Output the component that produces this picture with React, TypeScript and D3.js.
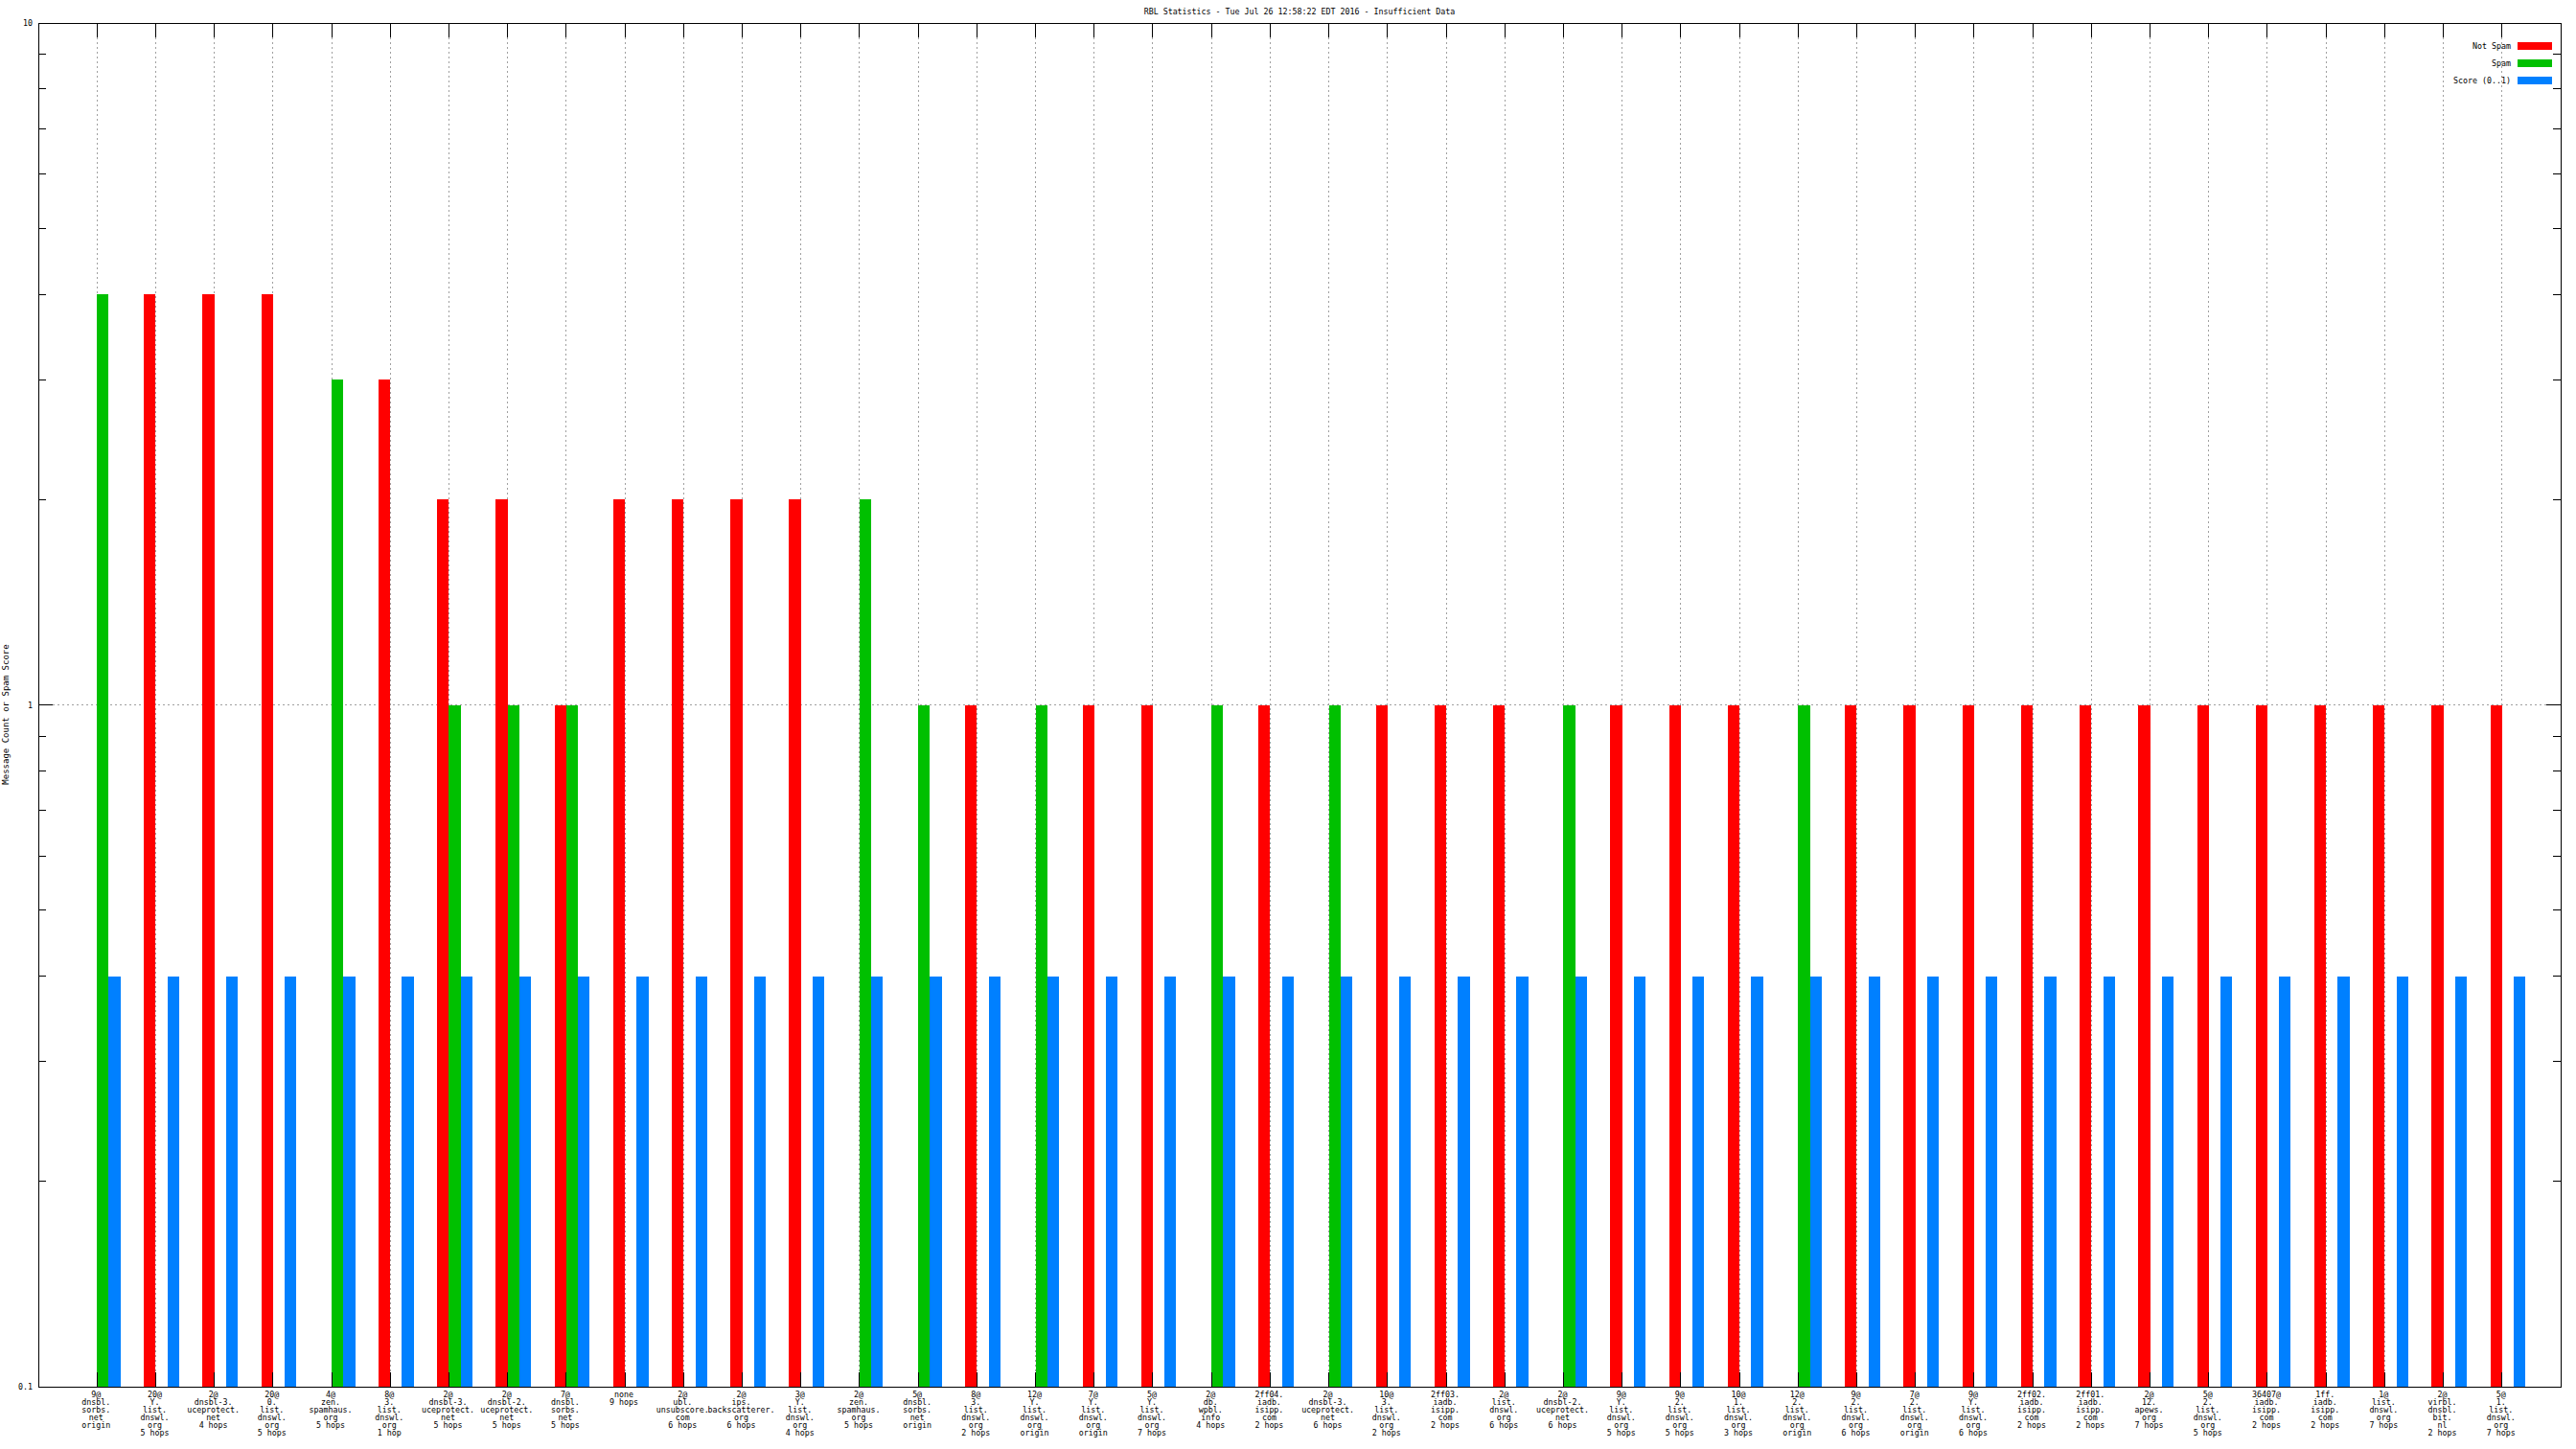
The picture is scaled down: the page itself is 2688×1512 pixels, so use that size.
import React from "react";
import * as d3 from "d3";

const categories: string[] = [
  "9@\ndnsbl.\nsorbs.\nnet\norigin",
  "20@\nY.\nlist.\ndnswl.\norg\n5 hops",
  "2@\ndnsbl-3.\nuceprotect.\nnet\n4 hops",
  "20@\n0.\nlist.\ndnswl.\norg\n5 hops",
  "4@\nzen.\nspamhaus.\norg\n5 hops",
  "8@\n3.\nlist.\ndnswl.\norg\n1 hop",
  "2@\ndnsbl-3.\nuceprotect.\nnet\n5 hops",
  "2@\ndnsbl-2.\nuceprotect.\nnet\n5 hops",
  "7@\ndnsbl.\nsorbs.\nnet\n5 hops",
  "none\n9 hops",
  "2@\nubl.\nunsubscore.\ncom\n6 hops",
  "2@\nips.\nbackscatterer.\norg\n6 hops",
  "3@\nY.\nlist.\ndnswl.\norg\n4 hops",
  "2@\nzen.\nspamhaus.\norg\n5 hops",
  "5@\ndnsbl.\nsorbs.\nnet\norigin",
  "8@\n3.\nlist.\ndnswl.\norg\n2 hops",
  "12@\nY.\nlist.\ndnswl.\norg\norigin",
  "7@\nY.\nlist.\ndnswl.\norg\norigin",
  "5@\nY.\nlist.\ndnswl.\norg\n7 hops",
  "2@\ndb.\nwpbl.\ninfo\n4 hops",
  "2ff04.\niadb.\nisipp.\ncom\n2 hops",
  "2@\ndnsbl-3.\nuceprotect.\nnet\n6 hops",
  "10@\n3.\nlist.\ndnswl.\norg\n2 hops",
  "2ff03.\niadb.\nisipp.\ncom\n2 hops",
  "2@\nlist.\ndnswl.\norg\n6 hops",
  "2@\ndnsbl-2.\nuceprotect.\nnet\n6 hops",
  "9@\nY.\nlist.\ndnswl.\norg\n5 hops",
  "9@\n2.\nlist.\ndnswl.\norg\n5 hops",
  "10@\n1.\nlist.\ndnswl.\norg\n3 hops",
  "12@\n2.\nlist.\ndnswl.\norg\norigin",
  "9@\n2.\nlist.\ndnswl.\norg\n6 hops",
  "7@\n2.\nlist.\ndnswl.\norg\norigin",
  "9@\nY.\nlist.\ndnswl.\norg\n6 hops",
  "2ff02.\niadb.\nisipp.\ncom\n2 hops",
  "2ff01.\niadb.\nisipp.\ncom\n2 hops",
  "2@\n12.\napews.\norg\n7 hops",
  "5@\n2.\nlist.\ndnswl.\norg\n5 hops",
  "36407@\niadb.\nisipp.\ncom\n2 hops",
  "1ff.\niadb.\nisipp.\ncom\n2 hops",
  "1@\nlist.\ndnswl.\norg\n7 hops",
  "2@\nvirbl.\ndnsbl.\nbit.\nnl\n2 hops",
  "5@\n1.\nlist.\ndnswl.\norg\n7 hops",
];

const notSpam: number[] = [0,4,4,4,0,3,2,2,1,2,2,2,2,0,0,1,0,1,1,0,1,0,1,1,1,0,1,1,1,0,1,1,1,1,1,1,1,1,1,1,1,1];
const spam: number[] = [4,0,0,0,3,0,1,1,1,0,0,0,0,2,1,0,1,0,0,1,0,1,0,0,0,1,0,0,0,1,0,0,0,0,0,0,0,0,0,0,0,0];
const score: number[] = categories.map(() => 0.4);

const seriesNames = ["Not Spam", "Spam", "Score (0..1)"];
const seriesColors = ["#ff0000", "#00c000", "#0080ff"];
const yMajorTicks = [0.1, 1, 10];
const yTickLabels = ["0.1", "1", "10"];
const title = "RBL Statistics - Tue Jul 26 12:58:22 EDT 2016 - Insufficient Data";
const yTitle = "Message Count or Spam Score";

export default function App() {
  const W = 2688, H = 1512;
  const left = 40, right = 2672, top = 24, bottom = 1447;
  const x = d3.scaleLinear().domain([-1, categories.length]).range([left, right]);
  const y = d3.scaleLog().domain([0.1, 10]).range([bottom, top]);
  const unit = x(1) - x(0);
  const bw = unit * 0.2;
  const series = [notSpam, spam, score];
  const minor: number[] = [];
  for (const dec of [0.1, 1]) for (let k = 2; k <= 9; k++) minor.push(dec * k);
  const font = "'DejaVu Sans Mono', monospace";
  const fs = 8.3;
  const idx = d3.range(categories.length);

  return (
    <svg width={W} height={H} style={{ position: "absolute", left: 0, top: 0, background: "#fff" }}>
      <rect x={0} y={0} width={W} height={H} fill="#fff" />
      {/* grid */}
      {idx.map((i) => (
        <line key={"vg" + i} x1={x(i)} x2={x(i)} y1={top} y2={bottom} stroke="#a0a0a0" strokeWidth={1} strokeDasharray="2,3" shapeRendering="crispEdges" />
      ))}
      <line x1={left} x2={right} y1={y(1)} y2={y(1)} stroke="#a0a0a0" strokeWidth={1} strokeDasharray="2,3" shapeRendering="crispEdges" />
      {/* bars */}
      {series.map((s, j) =>
        s.map((v, i) =>
          v > 0 ? (
            <rect key={"b" + j + "-" + i} x={x(i) + (j - 1) * bw} y={y(v)} width={bw} height={y(0.1) - y(v)} fill={seriesColors[j]} shapeRendering="crispEdges" />
          ) : null
        )
      )}
      {/* x tics */}
      {idx.map((i) => (
        <g key={"xt" + i}>
          <line x1={x(i)} x2={x(i)} y1={bottom} y2={bottom - 15} stroke="#000" shapeRendering="crispEdges" />
          <line x1={x(i)} x2={x(i)} y1={top} y2={top + 15} stroke="#000" shapeRendering="crispEdges" />
        </g>
      ))}
      {/* y tics */}
      {yMajorTicks.map((t) => (
        <g key={"ym" + t}>
          <line x1={left} x2={left + 15} y1={y(t)} y2={y(t)} stroke="#000" shapeRendering="crispEdges" />
          <line x1={right} x2={right - 15} y1={y(t)} y2={y(t)} stroke="#000" shapeRendering="crispEdges" />
        </g>
      ))}
      {minor.map((t) => (
        <g key={"yn" + t}>
          <line x1={left} x2={left + 8} y1={y(t)} y2={y(t)} stroke="#000" shapeRendering="crispEdges" />
          <line x1={right} x2={right - 8} y1={y(t)} y2={y(t)} stroke="#000" shapeRendering="crispEdges" />
        </g>
      ))}
      {/* border */}
      <rect x={left} y={top} width={right - left} height={bottom - top} fill="none" stroke="#000" strokeWidth={1} shapeRendering="crispEdges" />
      {/* y tick labels */}
      {yMajorTicks.map((t, k) => (
        <text key={"yl" + t} x={left - 6} y={y(t) + 3} textAnchor="end" fontFamily={font} fontSize={fs}>
          {yTickLabels[k]}
        </text>
      ))}
      {/* x labels */}
      {categories.map((c, i) => (
        <text key={"xl" + i} x={x(i) - 1} y={bottom + 11} textAnchor="middle" fontFamily={font} fontSize={fs}>
          {c.split("\n").map((ln, k) => (
            <tspan key={k} x={x(i) - 1} y={bottom + 11 + k * 8}>{ln}</tspan>
          ))}
        </text>
      ))}
      {/* title */}
      <text x={(left + right) / 2} y={15} textAnchor="middle" fontFamily={font} fontSize={fs}>{title}</text>
      {/* y title */}
      <text transform={`translate(9,${(top + bottom) / 2 + 10}) rotate(-90)`} textAnchor="middle" fontFamily={font} fontSize={9}>{yTitle}</text>
      {/* legend */}
      {seriesNames.map((n, j) => (
        <g key={"lg" + j}>
          <text x={2620} y={48 + j * 18 + 3} textAnchor="end" fontFamily={font} fontSize={fs}>{n}</text>
          <rect x={2627} y={44 + j * 18} width={36} height={8} fill={seriesColors[j]} shapeRendering="crispEdges" />
        </g>
      ))}
    </svg>
  );
}
